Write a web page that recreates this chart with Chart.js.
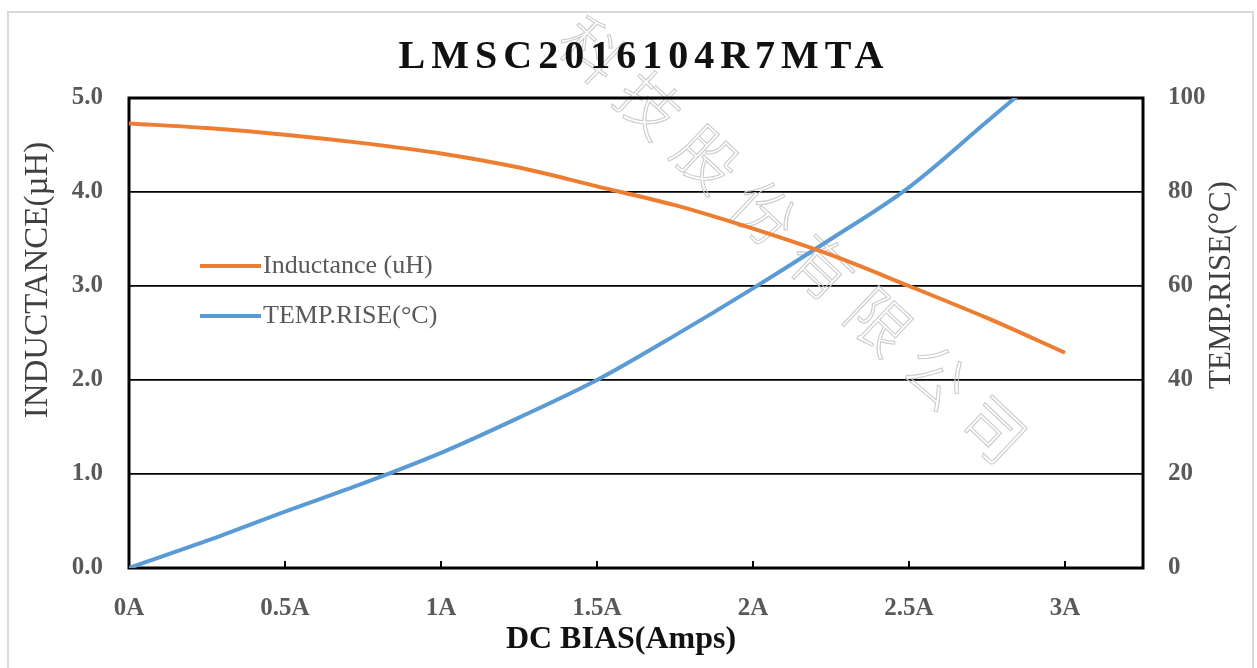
<!DOCTYPE html>
<html>
<head>
<meta charset="utf-8">
<script src="https://cdn.jsdelivr.net/npm/chart.js@4.4.1/dist/chart.umd.min.js"></script>
<style>
  html, body { margin: 0; padding: 0; background: #fff; }
  #wrap { position: relative; width: 1257px; height: 668px; }
</style>
</head>
<body>
<div id="wrap"><canvas id="biasChart" width="1257" height="668"></canvas></div>
<script>
// values
const biasAmps = [0, 0.25, 0.5, 0.75, 1, 1.25, 1.5, 1.75, 2, 2.25, 2.5, 2.75, 3];
const inductance = [4.73, 4.68, 4.61, 4.52, 4.41, 4.26, 4.06, 3.86, 3.61, 3.33, 3.00, 2.66, 2.29];
const tempRise = [0, 5.8, 12, 18, 24.5, 32, 40, 49.5, 59.5, 70, 81, 95, 109];
const biasTicks = [0, 0.5, 1, 1.5, 2, 2.5, 3];

const chartTitle = 'LMSC2016104R7MTA';
const leftTitle = 'INDUCTANCE(\u00b5H)';
const rightTitle = 'TEMP.RISE(\u00b0C)';
const bottomTitle = 'DC BIAS(Amps)';
const seriesNames = ['Inductance (uH)', 'TEMP.RISE(\u00b0C)'];
const watermark = '\u79d1\u6280\u80a1\u4efd\u6709\u9650\u516c\u53f8';

const ORANGE = '#ED7D31';
const BLUE = '#5B9BD5';
const SERIF = "'Liberation Serif', 'Times New Roman', serif";

// frame, titles, watermark and inline legend
const decorPlugin = {
    id: 'decor',
    beforeDraw(chart) {
        const ctx = chart.ctx;
        ctx.save();
        ctx.fillStyle = '#fff';
        ctx.fillRect(0, 0, chart.width, chart.height);
        ctx.strokeStyle = '#d9d9d9';
        ctx.lineWidth = 2;
        ctx.strokeRect(8, 12, 1245, 700);
        ctx.restore();
    },
    beforeDatasetsDraw(chart) {
        const ctx = chart.ctx;
        const a = chart.chartArea;
        const x = chart.scales.x;
        ctx.save();
        // watermark
        ctx.translate(592, 50);
        ctx.rotate(Math.PI / 4.15);
        ctx.font = "300 62px 'Noto Sans CJK SC'";
        ctx.letterSpacing = '17px';
        ctx.textBaseline = 'middle';
        ctx.strokeStyle = '#cccccc';
        ctx.lineWidth = 1.1;
        ctx.strokeText(watermark, -31, 0);
        ctx.restore();

        ctx.save();
        // plot frame
        ctx.strokeStyle = '#000';
        ctx.lineWidth = 3;
        ctx.strokeRect(a.left, a.top, a.right - a.left, a.bottom - a.top);
        // inward tick marks on the bias axis
        ctx.lineWidth = 2;
        x.ticks.forEach(t => {
            const px = x.getPixelForValue(t.value);
            ctx.beginPath();
            ctx.moveTo(px, a.bottom);
            ctx.lineTo(px, a.bottom - 7);
            ctx.stroke();
        });
        ctx.restore();
    },
    afterDraw(chart) {
        const ctx = chart.ctx;
        ctx.save();
        ctx.textAlign = 'center';
        ctx.textBaseline = 'middle';

        ctx.fillStyle = '#111';
        ctx.font = 'bold 40px ' + SERIF;
        ctx.letterSpacing = '6px';
        ctx.fillText(chartTitle, 644, 58);
        ctx.letterSpacing = '0px';

        ctx.font = 'bold 32px ' + SERIF;
        ctx.fillText(bottomTitle, 621, 640);

        ctx.fillStyle = '#404040';
        ctx.font = '33px ' + SERIF;
        ctx.save();
        ctx.translate(38, 280);
        ctx.rotate(-Math.PI / 2);
        ctx.fillText(leftTitle, 0, 0);
        ctx.restore();

        ctx.font = '31px ' + SERIF;
        ctx.save();
        ctx.translate(1222, 285);
        ctx.rotate(-Math.PI / 2);
        ctx.fillText(rightTitle, 0, 0);
        ctx.restore();

        // legend inside the plot
        const colors = [ORANGE, BLUE];
        ctx.textAlign = 'left';
        ctx.font = '26px ' + SERIF;
        seriesNames.forEach((name, i) => {
            const y = 266 + i * 50;
            ctx.strokeStyle = colors[i];
            ctx.lineWidth = 4;
            ctx.beginPath();
            ctx.moveTo(200, y);
            ctx.lineTo(261, y);
            ctx.stroke();
            ctx.fillStyle = '#595959';
            ctx.fillText(name, 263, y);
        });
        ctx.restore();
    }
};

const ctx = document.getElementById('biasChart').getContext('2d');
new Chart(ctx, {
    type: 'line',
    data: {
        datasets: [{
            label: seriesNames[0],
            data: biasAmps.map((b, i) => ({ x: b, y: inductance[i] })),
            borderColor: ORANGE,
            borderWidth: 4,
            pointRadius: 0,
            cubicInterpolationMode: 'monotone',
            yAxisID: 'y',
            clip: 0
        }, {
            label: seriesNames[1],
            data: biasAmps.map((b, i) => ({ x: b, y: tempRise[i] })),
            borderColor: BLUE,
            borderWidth: 4,
            pointRadius: 0,
            cubicInterpolationMode: 'monotone',
            yAxisID: 'y2',
            clip: 0
        }]
    },
    options: {
        responsive: false,
        devicePixelRatio: 1,
        animation: false,
        layout: { padding: { top: 98, left: 0, right: 0, bottom: 0 } },
        plugins: {
            legend: { display: false },
            title: { display: false },
            tooltip: { enabled: false }
        },
        scales: {
            x: {
                type: 'linear',
                min: 0,
                max: 3.25,
                afterBuildTicks: s => { s.ticks = biasTicks.map(v => ({ value: v })); },
                afterFit: s => { s.height = 100; },
                grid: { display: false },
                border: { display: false },
                ticks: {
                    padding: 18,
                    color: '#595959',
                    font: { family: SERIF, size: 25, weight: 'bold' },
                    callback: v => v + 'A'
                }
            },
            y: {
                position: 'left',
                min: 0,
                max: 5,
                afterFit: s => { s.width = 129; },
                grid: { color: '#000', lineWidth: 1.8, drawTicks: false },
                border: { display: false },
                ticks: {
                    stepSize: 1,
                    padding: 26,
                    color: '#595959',
                    font: { family: SERIF, size: 25, weight: 'bold' },
                    callback: v => v.toFixed(1)
                }
            },
            y2: {
                position: 'right',
                min: 0,
                max: 100,
                afterFit: s => { s.width = 114; },
                grid: { display: false, drawTicks: false },
                border: { display: false },
                ticks: {
                    stepSize: 20,
                    padding: 25,
                    color: '#595959',
                    font: { family: SERIF, size: 25, weight: 'bold' }
                }
            }
        }
    },
    plugins: [decorPlugin]
});
</script>
</body>
</html>
